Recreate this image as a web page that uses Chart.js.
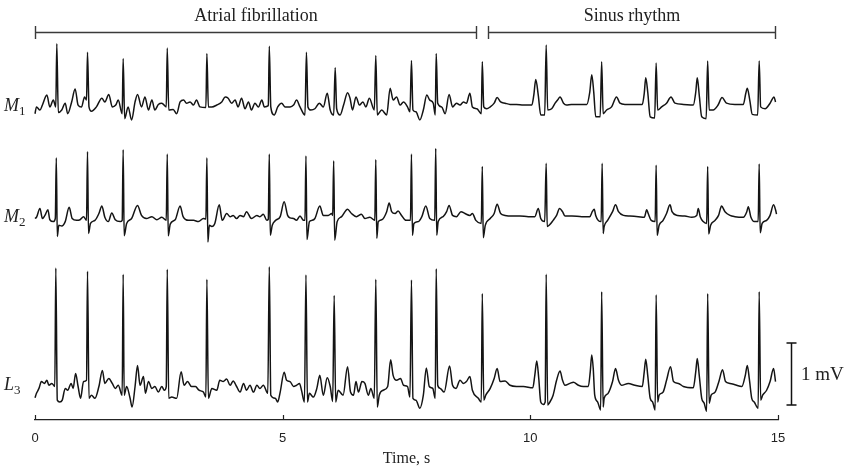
<!DOCTYPE html>
<html><head><meta charset="utf-8">
<script src="https://cdn.jsdelivr.net/npm/chart.js@4.4.1/dist/chart.umd.min.js"></script>
<style>html,body{margin:0;padding:0;background:#fff;}#wrap{width:852px;height:469px;}</style>
</head><body><div id="wrap"><canvas id="c" width="852" height="469"></canvas></div>
<script>
// ---- data: time (s), amplitude (mV) ----
const leadNames = ['M', 'M', 'L'];
const leadSubs = ['1', '2', '3'];
const xTicks = [0, 5, 10, 15];
const rhythmLabels = ['Atrial fibrillation', 'Sinus rhythm'];
const rhythmStart = [0, 9.15];
const rhythmEnd = [8.90, 14.94];
const scaleBarMv = 1;

const m1 = [[0,-0.09],[0.03,0.02],[0.10,-0.03],[0.15,0.05],[0.24,0.21],[0.30,0.02],[0.37,0.13],[0.42,0.02],[0.44,1.04],[0.47,-0.07],[0.54,-0.03],[0.61,0.08],[0.66,-0.09],[0.74,0.10],[0.81,0.31],[0.87,0.05],[0.94,0.02],[1.00,0.18],[1.04,0.13],[1.06,0.90],[1.09,0.02],[1.14,-0.05],[1.24,0.02],[1.35,0.16],[1.41,0.10],[1.49,0.22],[1.56,0.02],[1.63,0.05],[1.68,0.13],[1.76,-0.09],[1.78,0.80],[1.81,-0.17],[1.88,0.02],[1.95,-0.19],[2.02,0.10],[2.07,0.22],[2.15,0.02],[2.22,0.18],[2.29,-0.03],[2.36,0.13],[2.42,-0.03],[2.49,0.06],[2.56,0.08],[2.65,0.02],[2.67,0.97],[2.70,-0.03],[2.79,-0.02],[2.86,-0.09],[2.93,0.10],[3.00,0.13],[3.06,0.08],[3.13,0.10],[3.20,0.05],[3.26,0.13],[3.33,0.02],[3.45,0.01],[3.47,0.88],[3.50,0.02],[3.57,0.02],[3.67,0.05],[3.77,0.10],[3.84,0.18],[3.90,0.16],[3.97,0.08],[4.04,0.13],[4.10,0.02],[4.17,0.16],[4.24,-0.01],[4.31,0.10],[4.37,-0.03],[4.44,0.08],[4.51,0.02],[4.58,0.13],[4.63,0.02],[4.71,0.04],[4.73,1.00],[4.76,0.02],[4.83,-0.11],[4.90,0.02],[4.98,0.08],[5.05,0.02],[5.15,0.02],[5.22,0.05],[5.28,0.13],[5.35,0.02],[5.45,-0.11],[5.48,0.90],[5.51,0.02],[5.57,-0.03],[5.65,-0.01],[5.74,0.08],[5.82,0.02],[5.90,0.24],[5.96,-0.03],[6.03,-0.11],[6.06,0.65],[6.09,-0.01],[6.16,-0.11],[6.23,0.05],[6.31,0.25],[6.36,0.16],[6.41,-0.03],[6.48,0.18],[6.55,0.05],[6.62,0.10],[6.68,0.02],[6.75,0.16],[6.85,-0.03],[6.88,0.85],[6.91,-0.11],[7.00,-0.03],[7.10,-0.11],[7.17,0.32],[7.23,0.13],[7.30,0.18],[7.37,0.05],[7.44,0.10],[7.52,0.02],[7.57,-0.06],[7.60,0.77],[7.63,-0.03],[7.69,-0.06],[7.77,-0.19],[7.84,-0.03],[7.91,0.21],[7.97,0.13],[8.04,0.08],[8.08,-0.11],[8.10,0.88],[8.13,0.08],[8.21,0.02],[8.28,-0.09],[8.36,0.22],[8.43,0.02],[8.51,0.08],[8.58,0.05],[8.65,0.10],[8.71,0.08],[8.78,0.24],[8.83,0.02],[8.92,-0.01],[9.01,-0.09],[9.03,0.75],[9.06,0.02],[9.12,-0.01],[9.19,0.02],[9.27,0.08],[9.33,0.17],[9.40,0.10],[9.49,0.08],[9.59,0.06],[9.72,0.06],[9.86,0.05],[10.03,0.05],[10.07,0.21],[10.11,0.46],[10.16,0.21],[10.21,-0.11],[10.29,-0.11],[10.32,1.02],[10.35,-0.03],[10.43,-0.01],[10.50,0.08],[10.55,0.13],[10.60,0.18],[10.67,0.08],[10.73,0.05],[10.83,0.06],[10.97,0.06],[11.14,0.06],[11.20,0.26],[11.24,0.54],[11.28,0.26],[11.32,-0.14],[11.41,-0.14],[11.44,0.75],[11.47,-0.09],[11.54,-0.03],[11.64,0.02],[11.74,0.18],[11.81,0.08],[11.91,0.06],[12.11,0.06],[12.26,0.06],[12.30,0.24],[12.33,0.49],[12.37,0.26],[12.42,-0.14],[12.51,-0.16],[12.54,0.73],[12.57,-0.03],[12.65,0.02],[12.75,0.08],[12.84,0.18],[12.92,0.08],[13.09,0.06],[13.29,0.05],[13.34,0.26],[13.37,0.49],[13.41,0.21],[13.46,-0.14],[13.55,-0.17],[13.58,0.76],[13.61,-0.03],[13.69,-0.03],[13.79,0.05],[13.87,0.17],[13.96,0.08],[14.13,0.06],[14.30,0.06],[14.35,0.24],[14.38,0.32],[14.43,0.13],[14.48,-0.10],[14.59,-0.11],[14.62,0.76],[14.65,0.02],[14.74,-0.01],[14.84,0.08],[14.92,0.18],[14.95,0.10]];

const m2 = [[0,0.01],[0.03,0.03],[0.10,0.17],[0.15,0.01],[0.20,0.06],[0.26,0.15],[0.30,-0.01],[0.37,-0.04],[0.41,0.01],[0.43,0.99],[0.45,-0.28],[0.48,-0.10],[0.54,-0.11],[0.61,-0.04],[0.69,0.19],[0.75,0.01],[0.84,-0.02],[0.91,-0.01],[0.98,0.04],[1.04,-0.02],[1.06,1.09],[1.08,-0.23],[1.12,-0.07],[1.21,-0.02],[1.29,0.09],[1.35,0.21],[1.41,0.03],[1.48,-0.04],[1.55,0.10],[1.62,-0.01],[1.72,-0.04],[1.76,-0.02],[1.78,1.12],[1.80,-0.27],[1.85,-0.07],[1.95,0.01],[2.07,0.22],[2.15,0.06],[2.25,0.01],[2.36,0.04],[2.46,-0.01],[2.56,0.03],[2.65,-0.02],[2.67,1.05],[2.69,-0.27],[2.73,-0.08],[2.83,-0.01],[2.93,0.21],[2.99,0.04],[3.10,-0.02],[3.20,-0.02],[3.30,-0.04],[3.40,0.01],[3.45,0.00],[3.47,0.99],[3.49,-0.37],[3.52,-0.10],[3.57,-0.12],[3.63,-0.07],[3.72,0.23],[3.78,-0.02],[3.87,0.09],[3.94,0.04],[4.00,0.06],[4.07,0.01],[4.14,0.06],[4.21,0.04],[4.27,0.12],[4.37,0.01],[4.48,0.06],[4.54,0.04],[4.61,0.08],[4.68,-0.02],[4.71,0.00],[4.73,1.05],[4.75,-0.26],[4.79,-0.10],[4.86,-0.02],[4.95,0.04],[5.03,0.28],[5.10,0.06],[5.15,0.02],[5.22,0.01],[5.28,-0.02],[5.35,0.05],[5.42,-0.02],[5.45,-0.02],[5.47,1.02],[5.49,-0.33],[5.54,-0.04],[5.59,-0.02],[5.65,0.01],[5.75,0.21],[5.82,0.06],[5.92,0.06],[5.99,0.09],[6.01,0.06],[6.03,0.94],[6.05,-0.34],[6.10,-0.04],[6.19,0.04],[6.31,0.16],[6.39,0.09],[6.49,0.04],[6.59,0.08],[6.66,0.01],[6.76,0.03],[6.86,-0.02],[6.88,0.96],[6.90,-0.31],[6.93,-0.04],[7.00,-0.01],[7.10,0.12],[7.15,0.26],[7.20,0.12],[7.27,0.09],[7.33,0.13],[7.40,0.06],[7.49,-0.02],[7.58,-0.02],[7.60,1.05],[7.62,-0.26],[7.65,-0.07],[7.74,-0.04],[7.81,0.04],[7.89,0.21],[7.97,0.01],[8.07,-0.02],[8.09,1.14],[8.11,-0.26],[8.14,-0.04],[8.24,0.04],[8.31,0.12],[8.36,0.22],[8.43,0.06],[8.51,0.04],[8.60,0.12],[8.68,0.09],[8.78,0.06],[8.83,0.09],[8.90,-0.02],[9.01,-0.07],[9.03,0.85],[9.05,-0.30],[9.09,-0.10],[9.19,0.01],[9.27,0.09],[9.33,0.24],[9.40,0.09],[9.49,0.06],[9.62,0.05],[9.79,0.05],[9.96,0.04],[10.09,0.04],[10.16,0.17],[10.21,0.01],[10.29,-0.04],[10.32,0.90],[10.34,-0.12],[10.38,-0.10],[10.46,-0.02],[10.53,0.06],[10.59,0.17],[10.65,0.12],[10.70,0.05],[10.84,0.05],[11.04,0.04],[11.20,0.04],[11.25,0.12],[11.29,0.16],[11.32,0.06],[11.37,-0.02],[11.43,-0.04],[11.45,0.90],[11.47,-0.23],[11.49,-0.12],[11.56,-0.02],[11.66,0.12],[11.72,0.23],[11.78,0.12],[11.88,0.06],[12.01,0.05],[12.18,0.04],[12.30,0.03],[12.35,0.15],[12.38,0.09],[12.44,-0.02],[12.52,-0.04],[12.54,0.87],[12.56,-0.26],[12.60,-0.10],[12.68,-0.02],[12.75,0.09],[12.82,0.23],[12.86,0.12],[12.97,0.06],[13.12,0.05],[13.26,0.03],[13.36,0.06],[13.39,0.17],[13.43,0.04],[13.49,-0.04],[13.56,-0.07],[13.58,0.85],[13.60,-0.24],[13.64,-0.10],[13.73,-0.02],[13.80,0.06],[13.86,0.21],[13.93,0.12],[14.03,0.06],[14.13,0.04],[14.30,0.03],[14.37,0.12],[14.40,0.20],[14.45,0.04],[14.52,-0.04],[14.60,-0.04],[14.62,0.89],[14.64,-0.22],[14.68,-0.07],[14.77,-0.02],[14.84,0.06],[14.91,0.23],[14.95,0.15],[14.97,0.08]];

const l3 = [[0,-0.17],[0.03,-0.10],[0.08,-0.02],[0.13,0.09],[0.19,0.06],[0.24,0.11],[0.28,0.03],[0.34,0.06],[0.40,0.01],[0.42,1.92],[0.45,-0.21],[0.50,-0.24],[0.55,-0.21],[0.61,-0.02],[0.66,-0.05],[0.73,0.06],[0.77,-0.02],[0.82,0.22],[0.87,0.01],[0.92,-0.18],[0.98,0.09],[1.04,0.11],[1.06,1.87],[1.09,-0.18],[1.14,-0.13],[1.21,-0.18],[1.29,0.01],[1.36,0.27],[1.41,0.06],[1.49,0.14],[1.56,0.06],[1.62,-0.02],[1.68,0.03],[1.76,-0.13],[1.78,1.82],[1.80,-0.13],[1.85,0.01],[1.92,-0.18],[1.96,-0.32],[2.02,0.01],[2.07,0.35],[2.12,0.03],[2.19,0.17],[2.23,-0.10],[2.29,0.09],[2.36,-0.02],[2.42,0.01],[2.49,-0.08],[2.56,0.01],[2.61,-0.05],[2.65,0.01],[2.67,1.90],[2.70,-0.18],[2.76,-0.16],[2.86,-0.18],[2.95,0.25],[3.01,0.03],[3.08,0.09],[3.16,0.01],[3.24,0.01],[3.31,-0.05],[3.40,-0.08],[3.45,-0.16],[3.47,1.74],[3.50,-0.18],[3.57,-0.02],[3.67,-0.05],[3.73,0.11],[3.80,0.09],[3.87,0.13],[3.94,0.03],[4.00,0.10],[4.07,0.01],[4.14,-0.08],[4.21,0.06],[4.27,-0.05],[4.34,0.03],[4.41,-0.08],[4.48,0.03],[4.54,-0.02],[4.61,0.03],[4.70,-0.10],[4.73,1.94],[4.76,-0.13],[4.85,-0.18],[4.90,-0.24],[4.95,-0.08],[5.03,0.24],[5.08,0.11],[5.15,0.09],[5.22,0.01],[5.28,0.03],[5.34,0.06],[5.38,-0.05],[5.44,-0.24],[5.47,1.81],[5.50,-0.24],[5.54,-0.10],[5.62,-0.16],[5.69,-0.02],[5.75,0.19],[5.82,-0.13],[5.90,0.15],[5.96,0.01],[6.01,-0.23],[6.04,1.48],[6.07,-0.24],[6.12,-0.05],[6.22,-0.13],[6.31,0.33],[6.37,-0.08],[6.43,-0.13],[6.48,0.09],[6.53,-0.08],[6.60,0.09],[6.66,0.06],[6.73,-0.13],[6.78,-0.02],[6.85,-0.18],[6.88,1.74],[6.91,-0.32],[6.95,-0.13],[7.03,-0.05],[7.12,0.01],[7.18,0.44],[7.23,0.19],[7.30,0.11],[7.38,0.14],[7.44,0.03],[7.52,0.01],[7.57,-0.16],[7.60,1.73],[7.63,-0.18],[7.69,-0.21],[7.77,-0.34],[7.84,-0.13],[7.90,0.31],[7.96,0.01],[8.03,-0.02],[8.08,-0.18],[8.10,1.91],[8.13,0.03],[8.18,-0.02],[8.26,-0.08],[8.37,0.34],[8.43,0.03],[8.50,-0.02],[8.58,0.11],[8.65,0.06],[8.71,0.09],[8.78,0.17],[8.83,-0.05],[8.95,-0.18],[9.01,-0.24],[9.03,1.51],[9.06,-0.21],[9.10,-0.13],[9.19,-0.02],[9.27,0.14],[9.33,0.30],[9.39,0.09],[9.49,0.10],[9.59,0.03],[9.72,0.01],[9.86,0.01],[10.05,-0.01],[10.09,0.19],[10.13,0.42],[10.17,0.14],[10.21,-0.24],[10.26,-0.28],[10.30,-0.24],[10.32,1.82],[10.35,-0.29],[10.38,-0.26],[10.46,-0.13],[10.53,0.11],[10.60,0.26],[10.65,0.11],[10.70,0.03],[10.80,0.06],[10.87,0.08],[10.97,0.03],[11.07,0.01],[11.17,0.01],[11.21,0.25],[11.24,0.52],[11.27,0.30],[11.30,-0.13],[11.36,-0.24],[11.42,-0.37],[11.44,1.54],[11.47,-0.32],[11.49,-0.18],[11.57,-0.10],[11.66,0.09],[11.72,0.30],[11.78,0.11],[11.84,0.03],[11.98,0.06],[12.11,0.03],[12.26,0.01],[12.30,0.25],[12.33,0.45],[12.37,0.19],[12.42,-0.18],[12.47,-0.24],[12.52,-0.37],[12.54,1.49],[12.57,-0.24],[12.60,-0.13],[12.68,-0.08],[12.75,0.11],[12.83,0.33],[12.89,0.09],[12.99,0.06],[13.09,0.01],[13.29,-0.01],[13.34,0.25],[13.37,0.46],[13.41,0.19],[13.46,-0.18],[13.51,-0.26],[13.56,-0.39],[13.58,1.51],[13.61,-0.26],[13.65,-0.13],[13.73,-0.08],[13.81,0.10],[13.88,0.28],[13.94,0.09],[14.03,0.06],[14.13,0.04],[14.27,0.01],[14.34,0.19],[14.38,0.35],[14.42,0.14],[14.47,-0.18],[14.52,-0.24],[14.60,-0.34],[14.62,1.54],[14.65,-0.21],[14.69,-0.13],[14.77,-0.05],[14.84,0.09],[14.91,0.30],[14.95,0.09]];

// ---- layout (not data) ----
const leadTraces = [m1, m2, l3];
const leadOffsetMv = [5.03, 3.24, 0.53];   // vertical placement of each lead on the shared mV axis
const SERIF = '"Liberation Serif", "DejaVu Serif", serif';

const datasets = leadTraces.map((tr, i) => ({
  label: leadNames[i] + leadSubs[i],
  data: tr.map(p => ({x: p[0], y: p[1] + leadOffsetMv[i]})),
  borderColor: '#141414',
  borderWidth: 1.5,
  pointRadius: 0,
  cubicInterpolationMode: 'monotone',
  fill: false,
  clip: false
}));

const decor = {
  id: 'decor',
  afterDraw(chart) {
    const {ctx, scales: {x, y}, chartArea} = chart;
    ctx.save();
    // rhythm brackets
    ctx.strokeStyle = '#3a3a3a';
    ctx.lineWidth = 1.4;
    ctx.fillStyle = '#222';
    ctx.font = '18px ' + SERIF;
    ctx.textAlign = 'center';
    ctx.textBaseline = 'alphabetic';
    for (let i = 0; i < rhythmLabels.length; i++) {
      const x0 = Math.round(x.getPixelForValue(rhythmStart[i])) + 0.5;
      const x1 = Math.round(x.getPixelForValue(rhythmEnd[i])) + 0.5;
      ctx.beginPath();
      ctx.moveTo(x0, 32.5); ctx.lineTo(x1, 32.5);
      ctx.moveTo(x0, 26); ctx.lineTo(x0, 39);
      ctx.moveTo(x1, 26); ctx.lineTo(x1, 39);
      ctx.stroke();
      ctx.fillText(rhythmLabels[i], (x0 + x1) / 2, 21);
    }
    // upward tick marks on time axis
    ctx.strokeStyle = '#222';
    ctx.lineWidth = 1.2;
    ctx.beginPath();
    for (const t of xTicks) {
      const px = Math.round(x.getPixelForValue(t)) + 0.5;
      ctx.moveTo(px, chartArea.bottom); ctx.lineTo(px, chartArea.bottom - 5);
    }
    ctx.stroke();
    // lead labels
    ctx.textAlign = 'left';
    for (let i = 0; i < leadNames.length; i++) {
      const by = y.getPixelForValue(leadOffsetMv[i]) + 3;
      ctx.font = 'italic 18px ' + SERIF;
      ctx.fillText(leadNames[i], 4, by);
      const w = ctx.measureText(leadNames[i]).width;
      ctx.font = '13px ' + SERIF;
      ctx.fillText(leadSubs[i], 4 + w, by + 4);
    }
    // 1 mV scale bar
    const sbx = 791.5;
    const yb = y.getPixelForValue(0.24), yt = y.getPixelForValue(0.24 + scaleBarMv);
    ctx.strokeStyle = '#111';
    ctx.lineWidth = 1.5;
    ctx.beginPath();
    ctx.moveTo(sbx, yt); ctx.lineTo(sbx, yb);
    ctx.moveTo(sbx - 5, yt); ctx.lineTo(sbx + 5, yt);
    ctx.moveTo(sbx - 5, yb); ctx.lineTo(sbx + 5, yb);
    ctx.stroke();
    ctx.font = '19px ' + SERIF;
    ctx.fillText(scaleBarMv + ' mV', 801, (yt + yb) / 2 + 6);
    ctx.restore();
  }
};

new Chart(document.getElementById('c'), {
  type: 'line',
  data: {datasets},
  options: {
    responsive: false,
    animation: false,
    events: [],
    layout: {padding: {left: 35, right: 74, top: 40, bottom: 0}},
    plugins: {legend: {display: false}, tooltip: {enabled: false}},
    scales: {
      x: {
        type: 'linear', min: 0, max: 15,
        afterBuildTicks: (s) => { s.ticks = xTicks.map(v => ({value: v})); },
        afterFit: (s) => { s.height = 49; },
        grid: {display: false, drawTicks: false},
        border: {display: true, color: '#222', width: 1.3},
        ticks: {font: {family: '"Liberation Sans", Arial, sans-serif', size: 13}, color: '#222', padding: 11, maxRotation: 0},
        title: {display: true, text: 'Time, s', color: '#222', font: {family: SERIF, size: 16}, padding: {top: 0, bottom: 1}}
      },
      y: {type: 'linear', display: false, min: 0, max: 380 / 62}
    }
  },
  plugins: [decor]
});
</script></body></html>
